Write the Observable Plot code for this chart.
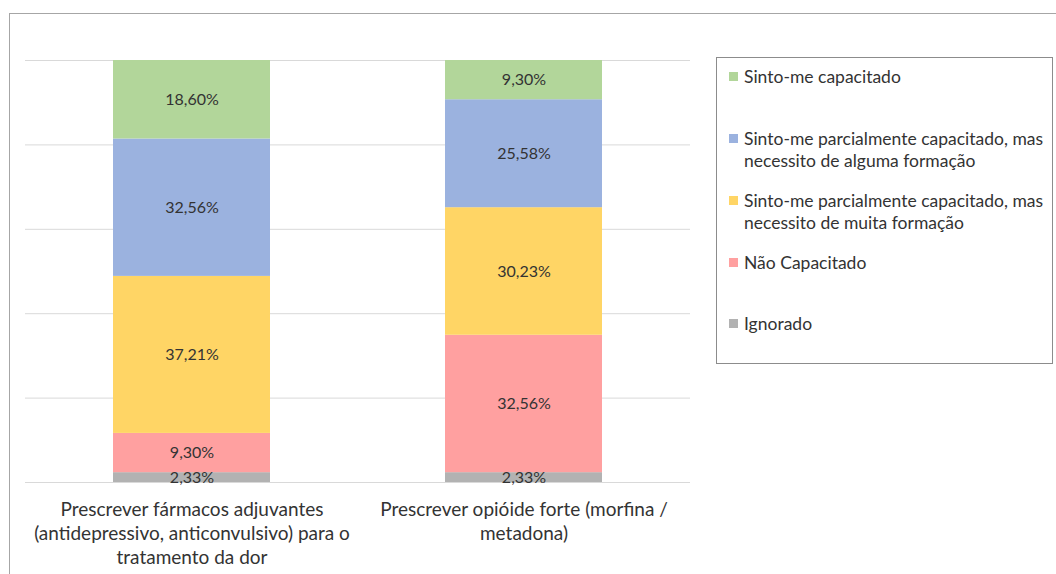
<!DOCTYPE html>
<html>
<head>
<meta charset="utf-8">
<script src="https://cdn.jsdelivr.net/npm/d3@7"></script>
<script src="https://cdn.jsdelivr.net/npm/@observablehq/plot@0.6"></script>
<style>
  html, body { margin: 0; padding: 0; background: #fff; overflow: hidden; }
  #wrap { position: relative; width: 1056px; height: 574px; font-family: Lato, "Open Sans", sans-serif; }
  #frame { position: absolute; left: 9px; top: 13px; width: 1100px; height: 600px; border: 1px solid #a6a6a6; box-sizing: border-box; }
  #chart { position: absolute; left: 0; top: 0; }
  #legend { position: absolute; left: 716px; top: 57px; width: 337px; height: 307px; border: 1px solid #8c8c8c; box-sizing: border-box; }
  .item { position: absolute; left: 12px; font-size: 17.5px; line-height: 21.5px; color: #333; padding-left: 15px; white-space: nowrap; }
  .sw { position: absolute; left: 0; top: 6px; width: 9px; height: 9px; }
</style>
</head>
<body>
<div id="wrap">
  <div id="frame"></div>
  <div id="chart"></div>
  <div id="legend"></div>
</div>
<script>
// Categories (x axis)
const categories = [
  "Prescrever fármacos adjuvantes (antidepressivo, anticonvulsivo) para o tratamento da dor",
  "Prescrever opióide forte (morfina / metadona)"
];
const categoryTickLabels = [
  "Prescrever fármacos adjuvantes\n(antidepressivo, anticonvulsivo) para o\ntratamento da dor",
  "Prescrever opióide forte (morfina /\nmetadona)"
];
// Series, bottom to top of the stack
const series = [
  "Ignorado",
  "Não Capacitado",
  "Sinto-me parcialmente capacitado, mas necessito de muita formação",
  "Sinto-me parcialmente capacitado, mas necessito de alguma formação",
  "Sinto-me capacitado"
];
const seriesColors = ["#b2b2b2", "#ffa0a0", "#ffd565", "#9bb2df", "#b2d69a"];
// Values (%) per series, one per category
const ignorado = [2.33, 2.33];
const naoCapacitado = [9.30, 32.56];
const muitaFormacao = [37.21, 30.23];
const algumaFormacao = [32.56, 25.58];
const capacitado = [18.60, 9.30];
const gridTicks = [0, 20, 40, 60, 80, 100];

const seriesValues = [ignorado, naoCapacitado, muitaFormacao, algumaFormacao, capacitado];
const data = [];
series.forEach((s, si) => {
  categories.forEach((c, ci) => {
    data.push({ category: c, series: s, value: seriesValues[si][ci] });
  });
});
const fmt = v => v.toFixed(2).replace(".", ",") + "%";
const tickMap = new Map(categories.map((c, i) => [c, categoryTickLabels[i]]));

const chart = Plot.plot({
  width: 1056,
  height: 574,
  marginLeft: 25,
  marginRight: 366,
  marginTop: 60,
  marginBottom: 92,
  style: { fontFamily: "Lato, 'Open Sans', sans-serif", background: "transparent" },
  x: { domain: categories, paddingInner: 0.528, paddingOuter: 0.264, label: null },
  y: { domain: [0, 100], axis: null },
  color: { domain: series, range: seriesColors },
  marks: [
    Plot.ruleY(gridTicks, { stroke: "#d9d9d9", strokeWidth: 1 }),
    Plot.barY(data, Plot.stackY({ x: "category", y: "value", fill: "series", order: series })),
    Plot.text(data, Plot.stackY({
      x: "category", y: "value", z: "series", order: series,
      text: d => fmt(d.value), fill: "#333", fontSize: 16
    })),
    Plot.axisX({
      tickSize: 0, tickPadding: 16, fontSize: 19, lineHeight: 24 / 19,
      tickFormat: d => tickMap.get(d), fill: "#333", textAnchor: "middle", lineAnchor: "top"
    })
  ]
});
document.getElementById("chart").appendChild(chart);

// Legend from the same color scale
const colorScale = chart.scale("color");
const legendLabels = [
  "Sinto-me capacitado",
  "Sinto-me parcialmente capacitado, mas\nnecessito de alguma formação",
  "Sinto-me parcialmente capacitado, mas\nnecessito de muita formação",
  "Não Capacitado",
  "Ignorado"
];
const legendSeries = series.slice().reverse();
const legendTops = [8, 70, 132, 194, 255];
const legend = document.getElementById("legend");
legendSeries.forEach((s, i) => {
  const item = document.createElement("div");
  item.className = "item";
  item.style.top = legendTops[i] + "px";
  const sw = document.createElement("div");
  sw.className = "sw";
  sw.style.background = colorScale.apply(s);
  item.appendChild(sw);
  legendLabels[i].split("\n").forEach((line) => {
    const span = document.createElement("div");
    span.textContent = line;
    item.appendChild(span);
  });
  legend.appendChild(item);
});
</script>
</body>
</html>
